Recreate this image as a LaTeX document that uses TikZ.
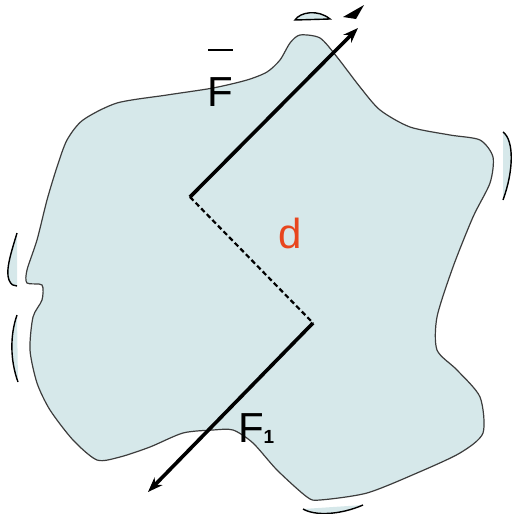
\documentclass[tikz,border=0pt]{standalone}
\usepackage{fontspec}
\setmainfont{Liberation Sans}
\usetikzlibrary{arrows.meta}
\definecolor{blob}{RGB}{214,232,234}
\definecolor{edge}{RGB}{60,60,60}
\definecolor{dred}{RGB}{232,70,30}
\tikzset{
  outline/.style={draw=edge, line width=1.2pt, fill=blob},
  force/.style={line width=3.6pt, black},
  lever/.style={line width=2.2pt, black, dash pattern=on 5pt off 3pt},
  bracket/.style={draw=black, line width=1.4pt, fill=blob},
  lbl/.style={font=\fontsize{42}{42}\selectfont, inner sep=0pt}
}
\begin{document}
\begin{tikzpicture}[x=1pt,y=-1pt]
\useasboundingbox (0,0) rectangle (512,514);
% body
\draw[outline] plot[smooth cycle, tension=0.45] coordinates {
 (300,35) (290,43) (280,60) (267,72) (247,80) (213,88) (167,95) (117,103)
 (83,120) (67,140) (57,167) (47,200) (37,240) (27,270) (27,283) (42,285)
 (42,300) (33,317) (30,350) (37,383) (50,410) (73,440) (97,460) (120,457)
 (150,447) (183,433) (213,430) (233,430) (253,443) (277,470) (307,497)
 (320,500) (367,493) (417,473) (460,453) (483,433) (480,397) (457,370)
 (437,350) (437,317) (453,267) (473,217) (490,183) (493,157) (480,140)
 (450,135) (410,127) (380,110) (360,87) (337,57) (320,38)};
% edge fragments
\draw[bracket] (295,20) .. controls (300,12) and (318,9) .. (330,19) -- cycle;
\draw[bracket] (303,509) .. controls (315,516) and (340,515) .. (363,505);
\draw[bracket] (17,233) .. controls (12,250) and (5,270) .. (9,280) .. controls (11,285) and (14,286) .. (17,286);
\draw[bracket] (17,315) .. controls (10,335) and (10,360) .. (18,382);
\draw[bracket] (503,132) .. controls (514,140) and (514,170) .. (503,200);
\fill[black] (343,17) -- (364,5) -- (356,19) -- cycle;
% force couple
\coordinate (A) at (190,197);
\coordinate (B) at (313,323);
\coordinate (Ftip) at (358,28);
\coordinate (Gtip) at (148,492);
\draw[force, -{Stealth[length=15pt,width=11pt]}] (A) -- (Ftip);
\draw[force, -{Stealth[length=15pt,width=11pt]}] (B) -- (Gtip);
\draw[lever] (A) -- (B);
% labels
\node[lbl] (F) at (220,92) {F};
\draw[line width=2.4pt] (208,50) -- (233,50);
\node[lbl] (F1) at (251,428) {F};
\node[inner sep=0pt, font=\fontsize{19}{19}\selectfont\bfseries] (one) at (269,437) {1};
\node[lbl, text=dred] (d) at (290,233) {d};
\end{tikzpicture}
\end{document}
